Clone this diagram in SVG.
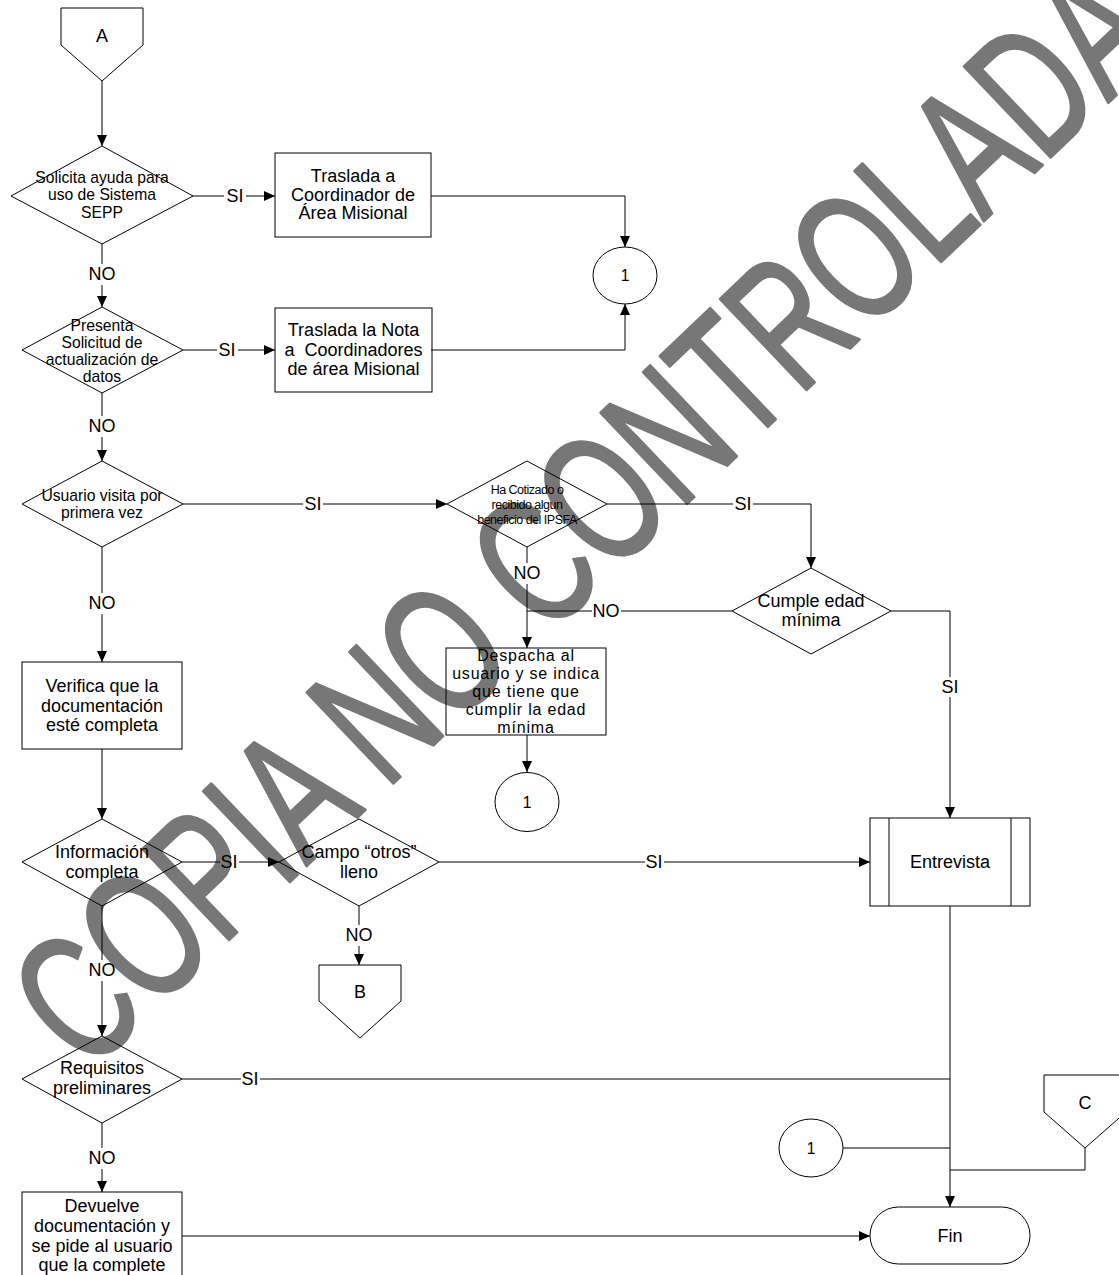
<svg xmlns="http://www.w3.org/2000/svg" width="1119" height="1275" viewBox="0 0 1119 1275">
  <style>
    .shape { fill: none; stroke: #000; stroke-width: 1; }
    .line { fill: none; stroke: #000; stroke-width: 1; }
    .arrow { marker-end: url(#arrowhead); }
    text { font-family: "Liberation Sans", Arial, sans-serif; fill: #000; text-anchor: middle; }
    .t18 { font-size: 18px; }
    .t16 { font-size: 15.7px; }
    .t12 { font-size: 12.5px; letter-spacing: -0.5px; }
    .sp { font-size: 16px; letter-spacing: 0.8px; }
    .lbl { font-size: 18px; }
    .wm { font-family: "Liberation Sans", Arial, sans-serif; font-size: 182px; fill: #777777; stroke: #777777; stroke-width: 3; stroke-linejoin: round; text-anchor: start; }
  </style>
  <defs>
    <marker id="arrowhead" markerUnits="userSpaceOnUse" markerWidth="12" markerHeight="10" refX="11" refY="5" orient="auto">
      <path d="M0,0 L11,5 L0,10 Z" fill="#000"/>
    </marker>
  </defs>
  <rect width="1119" height="1275" fill="#fff"/>

  <!-- watermark behind the chart: narrow lettering on the diagonal -->
  <g id="watermark">
    <text class="wm" transform="translate(87,1075) rotate(-43.6) scale(0.68,1)">COPIA NO CONTROLADA</text>
  </g>

  <g id="connectors">
    <path class="line arrow" d="M102,81 V146"/>
    <path class="line" d="M193,196 H224"/>
    <path class="line arrow" d="M246,196 H275"/>
    <text class="lbl" x="235" y="202">SI</text>
    <path class="line" d="M102,244 V264"/>
    <path class="line arrow" d="M102,285 V307"/>
    <text class="lbl" x="102" y="280">NO</text>
    <path class="line arrow" d="M431,196 H625 V247"/>
    <path class="line" d="M183,350 H217"/>
    <path class="line arrow" d="M238,350 H275"/>
    <text class="lbl" x="227" y="356">SI</text>
    <path class="line arrow" d="M431,350 H625 V304"/>
    <path class="line" d="M102,393 V416"/>
    <path class="line arrow" d="M102,437 V461"/>
    <text class="lbl" x="102" y="432">NO</text>
    <path class="line" d="M183,504 H303"/>
    <path class="line arrow" d="M323,504 H447"/>
    <text class="lbl" x="313" y="510">SI</text>
    <path class="line" d="M607,504 H733"/>
    <path class="line arrow" d="M753,504 H811 V568"/>
    <text class="lbl" x="743" y="510">SI</text>
    <path class="line" d="M527,547 V563"/>
    <path class="line arrow" d="M527,584 V648"/>
    <text class="lbl" x="527" y="579">NO</text>
    <path class="line" d="M732,611 H621"/>
    <path class="line" d="M592,611 H527"/>
    <text class="lbl" x="606" y="617">NO</text>
    <path class="line" d="M891,611 H950 V677"/>
    <path class="line arrow" d="M950,697 V818"/>
    <text class="lbl" x="950" y="693">SI</text>
    <path class="line arrow" d="M527,735 V772"/>
    <path class="line" d="M102,547 V593"/>
    <path class="line arrow" d="M102,614 V662"/>
    <text class="lbl" x="102" y="609">NO</text>
    <path class="line arrow" d="M102,749 V819"/>
    <path class="line" d="M182,862 H220"/>
    <path class="line arrow" d="M239,862 H279"/>
    <text class="lbl" x="229" y="868">SI</text>
    <path class="line" d="M439,862 H645"/>
    <path class="line arrow" d="M664,862 H870"/>
    <text class="lbl" x="654" y="868">SI</text>
    <path class="line" d="M359,906 V925"/>
    <path class="line arrow" d="M359,946 V965"/>
    <text class="lbl" x="359" y="941">NO</text>
    <path class="line" d="M102,906 V960"/>
    <path class="line arrow" d="M102,981 V1036"/>
    <text class="lbl" x="102" y="976">NO</text>
    <path class="line" d="M182,1079 H241"/>
    <path class="line" d="M260,1079 H950"/>
    <text class="lbl" x="250" y="1085">SI</text>
    <path class="line" d="M102,1123 V1148"/>
    <path class="line arrow" d="M102,1169 V1192"/>
    <text class="lbl" x="102" y="1164">NO</text>
    <path class="line arrow" d="M182,1236 H870"/>
    <path class="line arrow" d="M950,906 V1207"/>
    <path class="line" d="M843,1148 H950"/>
    <path class="line" d="M1085,1148 V1170 H950"/>
  </g>

  <g id="conn-a">
    <polygon class="shape" points="61,8 143,8 143,45 102,81 61,45"/>
    <text class="t18" x="102" y="42">A</text>
  </g>
  <g id="dec-ayuda">
    <polygon class="shape" points="102,146 193,196 102,244 11,196"/>
    <text class="t16" x="102" y="182.5">Solicita ayuda para</text>
    <text class="t16" x="102" y="200">uso de Sistema</text>
    <text class="t16" x="102" y="217.5">SEPP</text>
  </g>
  <g id="proc-traslada-coord">
    <rect class="shape" x="275" y="153" width="156" height="84"/>
    <text class="t18" x="353" y="182">Traslada a</text>
    <text class="t18" x="353" y="201">Coordinador de</text>
    <text class="t18" x="353" y="219">Área Misional</text>
  </g>
  <g id="ref-1-top">
    <ellipse class="shape" cx="625" cy="275.5" rx="32" ry="28.5"/>
    <text class="t16" x="625" y="281">1</text>
  </g>
  <g id="dec-actualizacion">
    <polygon class="shape" points="102,307 183,350 102,393 22,350"/>
    <text class="t16" x="102" y="330.5">Presenta</text>
    <text class="t16" x="102" y="347.5">Solicitud de</text>
    <text class="t16" x="102" y="364.5">actualización de</text>
    <text class="t16" x="102" y="381.5">datos</text>
  </g>
  <g id="proc-traslada-nota">
    <rect class="shape" x="275" y="308" width="157" height="84"/>
    <text class="t18" x="353.5" y="336">Traslada la Nota</text>
    <text class="t18" x="353.5" y="356" xml:space="preserve">a  Coordinadores</text>
    <text class="t18" x="353.5" y="375">de área Misional</text>
  </g>
  <g id="dec-primera-vez">
    <polygon class="shape" points="102,461 183,504 102,547 22,504"/>
    <text class="t16" x="102" y="500.5">Usuario visita por</text>
    <text class="t16" x="102" y="517.5">primera vez</text>
  </g>
  <g id="dec-cotizado">
    <polygon class="shape" points="527,461 607,504 527,547 447,504"/>
    <text class="t12" x="527" y="493.5">Ha Cotizado o</text>
    <text class="t12" x="527" y="508.5">recibido algun</text>
    <text class="t12" x="527" y="523.5">beneficio del IPSFA</text>
  </g>
  <g id="dec-edad">
    <polygon class="shape" points="811,568 891,611 811,654 732,611"/>
    <text class="t18" x="811" y="607">Cumple edad</text>
    <text class="t18" x="811" y="626">mínima</text>
  </g>
  <g id="proc-despacha">
    <rect class="shape" x="446" y="648" width="160" height="87"/>
    <text class="sp" x="526" y="660.5">Despacha al</text>
    <text class="sp" x="526" y="678.5">usuario y se indica</text>
    <text class="sp" x="526" y="696.5">que tiene que</text>
    <text class="sp" x="526" y="714.5">cumplir la edad</text>
    <text class="sp" x="526" y="732.5">mínima</text>
  </g>
  <g id="ref-1-mid">
    <ellipse class="shape" cx="527" cy="802" rx="32" ry="29.5"/>
    <text class="t16" x="527" y="808">1</text>
  </g>
  <g id="proc-verifica">
    <rect class="shape" x="22" y="662" width="160" height="87"/>
    <text class="t18" x="102" y="692">Verifica que la</text>
    <text class="t18" x="102" y="712">documentación</text>
    <text class="t18" x="102" y="731">esté completa</text>
  </g>
  <g id="dec-info-completa">
    <polygon class="shape" points="102,819 182,862 102,906 22,862"/>
    <text class="t18" x="102" y="858">Información</text>
    <text class="t18" x="102" y="878">completa</text>
  </g>
  <g id="dec-campo-otros">
    <polygon class="shape" points="359,819 439,862 359,906 279,862"/>
    <text class="t18" x="359" y="858">Campo “otros”</text>
    <text class="t18" x="359" y="878">lleno</text>
  </g>
  <g id="conn-b">
    <polygon class="shape" points="319,965 401,965 401,1001 360,1038 319,1001"/>
    <text class="t18" x="360" y="998">B</text>
  </g>
  <g id="subproc-entrevista">
    <rect class="shape" x="870" y="818" width="160" height="88"/>
    <path class="shape" d="M889,818 V906 M1011,818 V906"/>
    <text class="t18" x="950" y="868">Entrevista</text>
  </g>
  <g id="dec-requisitos">
    <polygon class="shape" points="102,1036 182,1079 102,1123 22,1079"/>
    <text class="t18" x="102" y="1074">Requisitos</text>
    <text class="t18" x="102" y="1094">preliminares</text>
  </g>
  <g id="proc-devuelve">
    <rect class="shape" x="22" y="1192" width="160" height="92"/>
    <text class="t18" x="102" y="1212">Devuelve</text>
    <text class="t18" x="102" y="1232">documentación y</text>
    <text class="t18" x="102" y="1252">se pide al usuario</text>
    <text class="t18" x="102" y="1271">que la complete</text>
  </g>
  <g id="ref-1-bottom">
    <ellipse class="shape" cx="811" cy="1148" rx="32" ry="29"/>
    <text class="t16" x="811" y="1154">1</text>
  </g>
  <g id="conn-c">
    <polygon class="shape" points="1044,1075 1126,1075 1126,1112 1085,1148 1044,1112"/>
    <text class="t18" x="1085" y="1109">C</text>
  </g>
  <g id="term-fin">
    <rect class="shape" x="870" y="1207" width="160" height="57" rx="28.5" ry="28.5"/>
    <text class="t18" x="950" y="1242">Fin</text>
  </g>
</svg>
